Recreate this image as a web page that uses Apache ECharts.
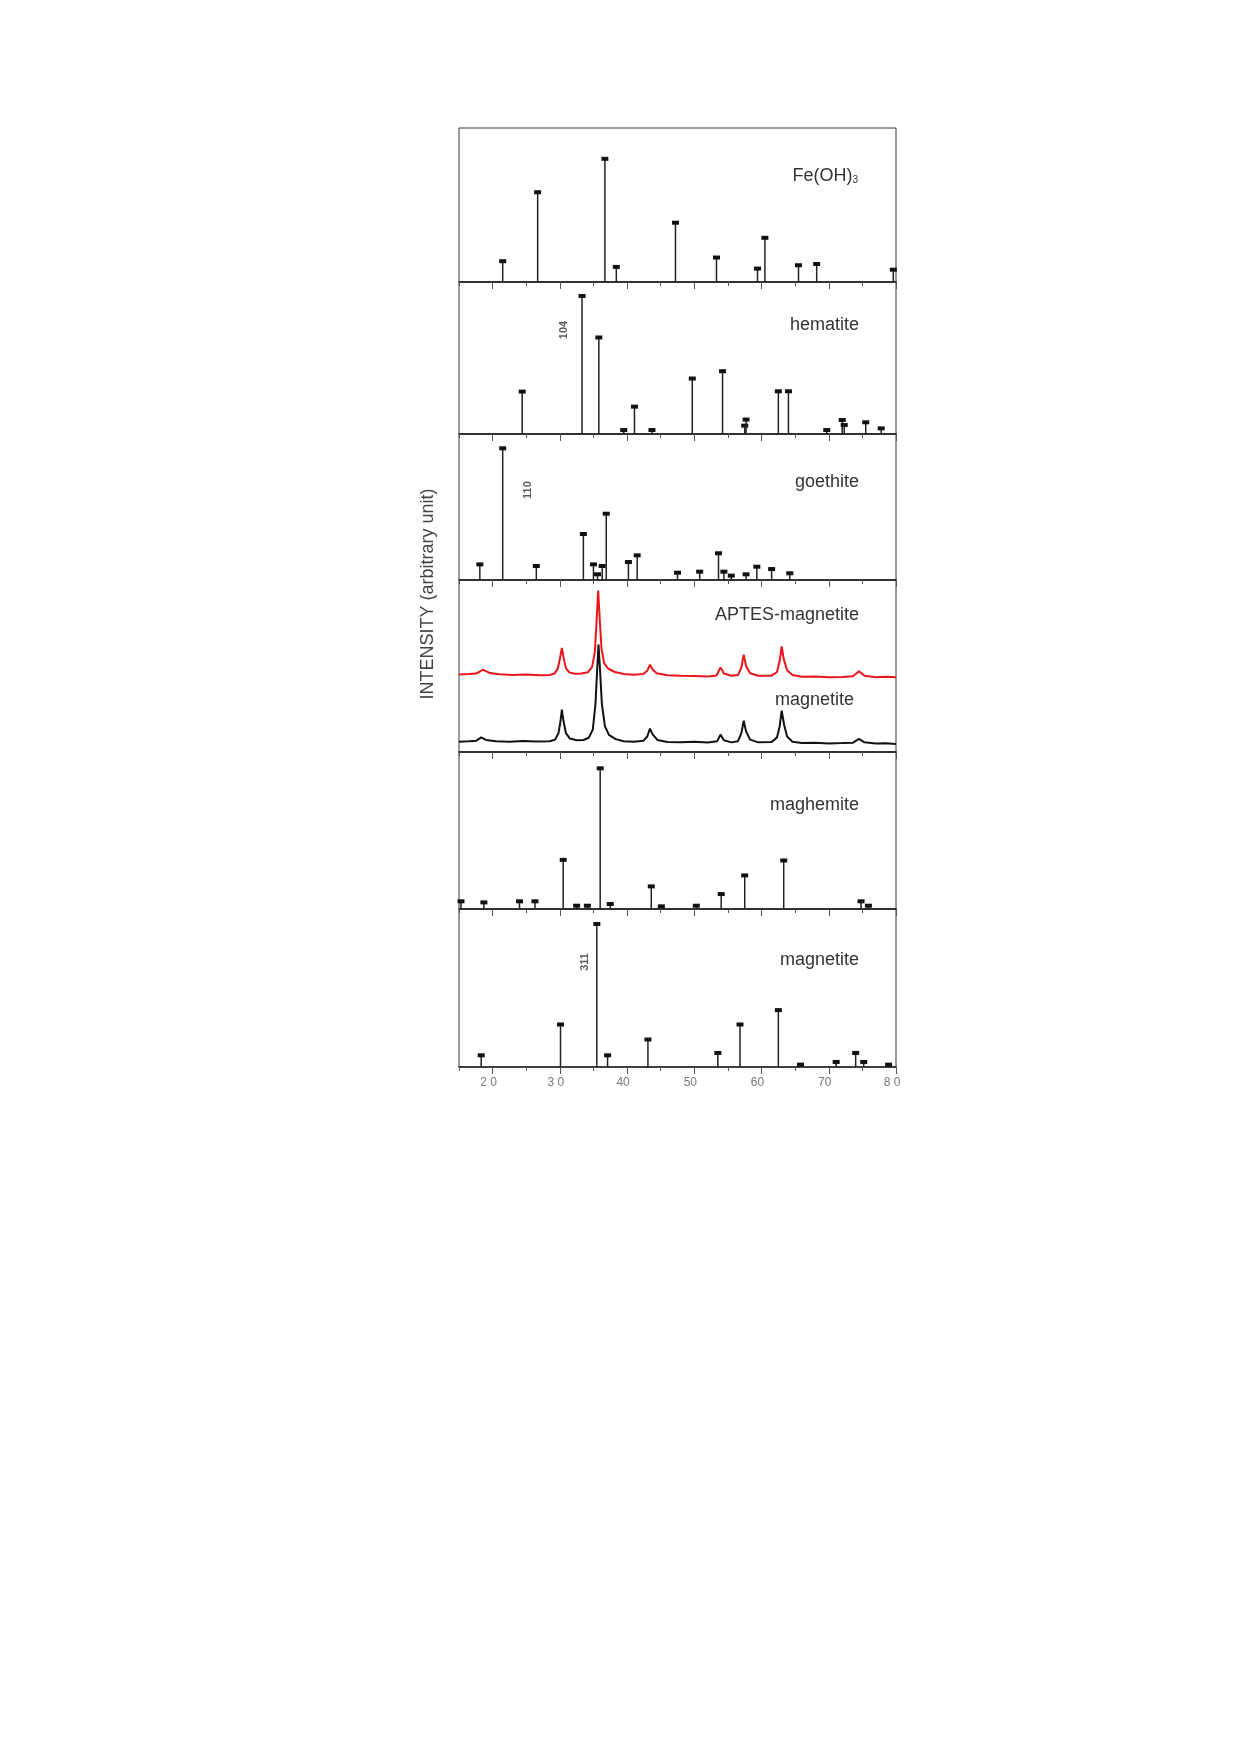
<!DOCTYPE html>
<html>
<head>
<meta charset="UTF-8">
<title>XRD patterns</title>
<script src="https://cdn.jsdelivr.net/npm/echarts@6/dist/echarts.min.js"></script>
<style>
  html, body { margin: 0; padding: 0; background: #fff; }
  #chart { width: 1239px; height: 1752px; }
</style>
</head>
<body>
<div id="chart"></div>
<script>
// reference stick patterns: [2theta, relative height (0-100 of panel)]
var feoh3Sticks = [[21.5, 13.5], [26.7, 58.3], [36.7, 80], [38.4, 9.8], [47.2, 38.5], [53.3, 15.9],
  [59.4, 8.7], [60.5, 28.7], [65.5, 10.9], [68.2, 11.7], [79.6, 8]];
var hematiteSticks = [[24.4, 27.9], [33.3, 90.8], [35.8, 63.5], [39.5, 2.6], [41.1, 18], [43.7, 2.6],
  [49.7, 36.5], [54.2, 41.3], [57.5, 5.5], [57.7, 9.5], [62.5, 28.1], [64.0, 28.1], [69.7, 2.6],
  [72.0, 9.2], [72.3, 5.9], [75.5, 7.7], [77.8, 3.7]];
var goethiteSticks = [[18.1, 10.7], [21.5, 90.2], [26.5, 9.6], [33.5, 31.5], [35.0, 10.7], [35.6, 3.9],
  [36.3, 9.6], [36.9, 45.4], [40.2, 12.3], [41.5, 16.9], [47.5, 5], [50.8, 5.7], [53.6, 18.3],
  [54.4, 5.7], [55.5, 3], [57.7, 3.9], [59.3, 9.1], [61.5, 7.5], [64.2, 4.6]];
var maghemiteSticks = [[15.3, 4.9], [18.7, 4.2], [24.0, 4.9], [26.3, 4.9], [30.5, 31.3], [32.5, 2.1],
  [34.1, 2.1], [36.0, 89.6], [37.5, 3.2], [43.6, 14.4], [45.1, 1.7], [50.3, 2.1], [54.0, 9.5],
  [57.5, 21.4], [63.3, 30.9], [74.8, 4.9], [75.9, 2.1]];
var magnetiteSticks = [[18.3, 7.4], [30.1, 26.9], [35.5, 90.5], [37.1, 7.4], [43.1, 17.4], [53.5, 8.9],
  [56.8, 26.9], [62.5, 36], [65.8, 1.5], [71.1, 3.2], [74.0, 8.9], [75.2, 3.2], [78.9, 1.5]];

var aptesMagnetite = [[15.0, 45.0], [16.5, 45.3], [17.5, 45.6], [18.0, 46.5], [18.5, 47.8], [19.0, 47.0],
  [19.6, 45.9], [21, 45.2], [23, 44.8], [25, 45.0], [27, 44.6], [28.5, 44.8], [29.2, 45.6], [29.7, 48.5],
  [30.0, 54], [30.3, 60.5], [30.6, 54], [30.9, 48.8], [31.4, 46.3], [32.2, 45.5], [33.2, 45.6], [34.2, 46.4],
  [34.8, 49.5], [35.2, 58], [35.45, 75], [35.7, 93.8], [35.95, 76], [36.2, 60], [36.6, 51.5], [37.2, 48.4],
  [38.2, 46.5], [39.5, 45.4], [41, 44.9], [42.4, 45.3], [43.0, 47.2], [43.4, 50.8], [43.8, 48.0], [44.4, 45.8],
  [46, 44.6], [48, 44.3], [50, 44.2], [52, 43.9], [53.3, 44.5], [53.9, 49.2], [54.4, 45.6], [55.5, 44.3],
  [56.5, 44.8], [57.0, 49], [57.35, 56.6], [57.7, 50], [58.3, 45.8], [59.5, 44.3], [61.5, 44.4], [62.3, 46.5],
  [62.7, 53], [63.0, 61.4], [63.3, 54], [63.8, 47.5], [64.6, 44.8], [66, 43.8], [68, 43.9], [70, 43.5],
  [72, 43.6], [73.6, 44.0], [74.5, 46.9], [75.3, 44.3], [77, 43.4], [78.5, 43.7], [80, 43.5]];
var magnetiteMeasured = [[15, 6.0], [16.5, 6.3], [17.6, 6.6], [18.3, 8.5], [19.0, 7.0], [20.5, 6.2],
  [22.5, 6.0], [24.5, 6.4], [26.5, 6.1], [28.5, 6.3], [29.3, 7.2], [29.8, 11], [30.1, 18], [30.3, 24.6],
  [30.55, 18], [30.9, 11], [31.5, 7.8], [32.5, 6.8], [33.5, 7.0], [34.3, 8.3], [34.9, 13], [35.3, 28],
  [35.55, 48], [35.75, 62.4], [36.0, 46], [36.25, 28], [36.7, 15], [37.3, 10], [38.3, 7.5], [39.5, 6.3],
  [41, 6.0], [42.4, 6.5], [43.0, 9.0], [43.4, 13.6], [43.8, 10.2], [44.5, 7.0], [46, 5.8], [48, 5.6],
  [50, 5.9], [52, 5.5], [53.4, 6.3], [53.9, 10.1], [54.4, 6.8], [55.5, 5.6], [56.5, 6.3], [57.0, 11],
  [57.35, 18.2], [57.7, 12], [58.3, 7.2], [59.5, 5.6], [61.5, 5.8], [62.3, 8.5], [62.7, 15], [63.0, 24.0],
  [63.35, 16], [63.8, 9.0], [64.6, 6.0], [66, 5.2], [68, 5.4], [70, 5.0], [72, 5.2], [73.6, 5.4],
  [74.5, 7.6], [75.3, 5.6], [77, 4.9], [78.5, 5.1], [80, 4.7]];

// peak index labels: [2theta, height, text]
var hematiteIndex = [[30.6, 68.4, '104']];
var goethiteIndex = [[25.2, 61.6, '110']];
var magnetiteIndex = [[33.7, 66.5, '311']];

var majorTicks = [20, 30, 40, 50, 60, 70, 80];
var tickLabels = ['2 0', '3 0', '40', '50', '60', '70', '8 0'];

var panelNames = ['Fe(OH){s|3}', 'hematite', 'goethite', 'APTES-magnetite', 'magnetite', 'maghemite', 'magnetite'];

var chart = echarts.init(document.getElementById('chart'), null, { renderer: 'canvas' });

var FONT = 'Liberation Sans, Arial, sans-serif';
var panels = [
  { top: 128, height: 154 },
  { top: 282, height: 152 },
  { top: 434, height: 146 },
  { top: 580, height: 172 },
  { top: 752, height: 157 },
  { top: 909, height: 158 }
];

var grids = [], xAxes = [], yAxes = [], series = [];
panels.forEach(function (p, i) {
  var last = i === panels.length - 1;
  grids.push({ left: 459, width: 437, top: p.top, height: p.height, show: true,
    borderColor: '#333', borderWidth: 1, backgroundColor: 'transparent' });
  // minor ticks every 5
  xAxes.push({ type: 'value', gridIndex: i, min: 15, max: 80, interval: 5, position: 'bottom',
    axisLine: { show: true, lineStyle: { color: '#222', width: 1.6 } },
    axisTick: { show: true, inside: false, length: 4, lineStyle: { color: '#555', width: 1 } },
    axisLabel: { show: false }, splitLine: { show: false } });
  // major ticks and labels
  xAxes.push({ type: 'value', gridIndex: i, min: 15, max: 80, position: 'bottom',
    axisLine: { show: false },
    axisTick: { show: true, inside: false, length: 7, customValues: majorTicks, lineStyle: { color: '#555', width: 1 } },
    axisLabel: { show: last, customValues: majorTicks, margin: 10, color: '#777', fontSize: 12, fontFamily: FONT,
      padding: [0, 8, 0, 0],
      formatter: function (v) { var k = majorTicks.indexOf(v); return k >= 0 ? tickLabels[k] : ''; } },
    splitLine: { show: false } });
  yAxes.push({ type: 'value', gridIndex: i, min: 0, max: 100, show: false });
});

function stickSeries(data, gi) {
  return {
    type: 'custom', xAxisIndex: gi * 2, yAxisIndex: gi, data: data, clip: false,
    renderItem: function (params, api) {
      var b = api.coord([api.value(0), 0]);
      var t = api.coord([api.value(0), api.value(1)]);
      return { type: 'group', children: [
        { type: 'line', shape: { x1: b[0], y1: b[1], x2: t[0], y2: t[1] }, style: { stroke: '#222', lineWidth: 1.5 } },
        { type: 'rect', shape: { x: t[0] - 3.5, y: t[1] - 2, width: 7, height: 4 }, style: { fill: '#111' } }
      ] };
    }
  };
}

function indexSeries(data, gi) {
  return {
    type: 'scatter', xAxisIndex: gi * 2, yAxisIndex: gi, symbolSize: 0, silent: true,
    data: data.map(function (d) { return { value: [d[0], d[1]], name: d[2] }; }),
    label: { show: true, position: 'inside', rotate: 90, formatter: '{b}', color: '#333',
      fontSize: 11, fontWeight: 'bold', fontFamily: FONT }
  };
}

series.push(stickSeries(feoh3Sticks, 0));
series.push(stickSeries(hematiteSticks, 1));
series.push(stickSeries(goethiteSticks, 2));
series.push(stickSeries(maghemiteSticks, 4));
series.push(stickSeries(magnetiteSticks, 5));
series.push({ type: 'line', xAxisIndex: 6, yAxisIndex: 3, data: aptesMagnetite, showSymbol: false,
  lineStyle: { color: '#e8161c', width: 2 } });
series.push({ type: 'line', xAxisIndex: 6, yAxisIndex: 3, data: magnetiteMeasured, showSymbol: false,
  lineStyle: { color: '#111', width: 2 } });
series.push(indexSeries(hematiteIndex, 1));
series.push(indexSeries(goethiteIndex, 2));
series.push(indexSeries(magnetiteIndex, 5));

// panel names, right aligned near x=858
var nameTops = [162, 311, 468, 601, 686, 791, 946];
var nameRight = [376, 375, 375, 375, 380, 375, 375];
var titles = panelNames.map(function (n, i) {
  return { text: n, right: nameRight[i], top: nameTops[i],
    textStyle: { fontSize: 18, fontWeight: 'normal', color: '#333', fontFamily: FONT,
      rich: { s: { fontSize: 10, color: '#333', fontFamily: FONT, padding: [8, 0, 0, 0] } } } };
});

chart.setOption({
  backgroundColor: '#fff',
  animation: false,
  title: titles,
  grid: grids,
  xAxis: xAxes,
  yAxis: yAxes,
  series: series,
  graphic: [{
    type: 'text', x: 428, y: 594, rotation: Math.PI / 2,
    style: { text: 'INTENSITY (arbitrary unit)', fill: '#444', fontSize: 18, fontFamily: FONT,
      align: 'center', verticalAlign: 'middle' }
  }]
});
</script>
</body>
</html>
